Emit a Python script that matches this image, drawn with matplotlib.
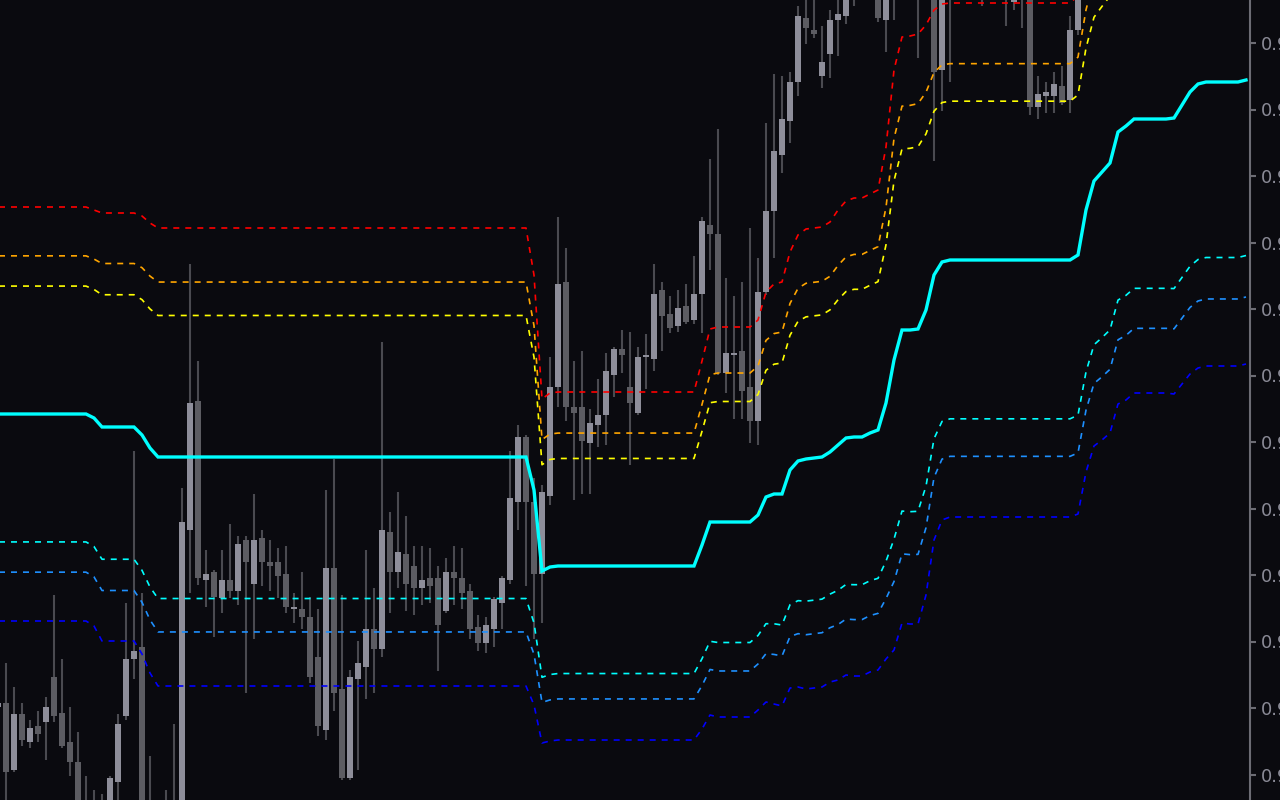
import numpy as np
import matplotlib
matplotlib.use("Agg")
import matplotlib.pyplot as plt

# price = BASE + points * POINT
BASE = 0.96
POINT = 0.00001

# candles (in points above BASE)
open_pts = [
    93, 97, 30, 86, 58, 74, 78, 123, 87, 58,
    38, -28, -50, -20, -35, 18, 84, 141, 153, -30,
    -50, -60, -40, -30, 270, 399, 220, 228, 202, 220,
    209, 260, 216, 262, 238, 238, 226, 191, 191, 183,
    143, 70, 232, 111, 22, 121, 133, 171, 151, 268,
    228, 246, 234, 212, 222, 222, 189, 228, 222, 209,
    173, 157, 171, 197, 220, 298, 363, 298, 226, 304,
    413, 518, 393, 393, 357, 375, 385, 425, 451, 413,
    387, 443, 441, 510, 486, 474, 494, 480, 506, 575,
    566, 427, 445, 449, 413, 379, 508, 589, 645, 679,
    718, 782, 770, 724, 746, 780, 784, 810, 840, 860,
    840, 780, 830, 850, 870, 860, 840, 860, 730, 830,
    850, 870, 880, 870, 860, 875, 865, 798, 840, 830,
    693, 704, 704, 714, 700, 770]
close_pts = [
    97, 28, 86, 60, 72, 66, 93, 84, 54, 38,
    -30, -50, -20, -35, 22, 76, 141, 149, -30, -50,
    -60, -40, -30, 278, 397, 222, 226, 203, 220, 209,
    256, 238, 260, 238, 234, 224, 193, 193, 183, 123,
    74, 232, 107, 22, 123, 137, 171, 151, 270, 228,
    248, 216, 212, 220, 214, 175, 228, 222, 207, 171,
    157, 175, 201, 222, 302, 363, 298, 226, 308, 413,
    516, 393, 387, 359, 377, 385, 429, 451, 445, 397,
    443, 445, 506, 484, 472, 492, 478, 506, 579, 566,
    427, 447, 447, 409, 379, 508, 589, 649, 681, 718,
    784, 772, 766, 738, 780, 786, 820, 840, 860, 840,
    782, 830, 850, 870, 860, 840, 860, 728, 830, 850,
    870, 880, 870, 860, 875, 865, 850, 840, 830, 693,
    706, 708, 716, 697, 770, 830]
high_pts = [
    100, 137, 113, 97, 80, 89, 103, 205, 141, 93,
    68, 24, 10, 6, 24, 86, 197, 349, 207, 44,
    -5, 10, 76, 312, 536, 439, 250, 230, 250, 276,
    264, 264, 306, 270, 260, 252, 254, 207, 228, 203,
    191, 310, 341, 205, 130, 159, 250, 212, 458, 288,
    308, 284, 254, 254, 252, 234, 242, 254, 252, 216,
    185, 183, 203, 224, 349, 375, 365, 322, 315, 443,
    583, 552, 439, 449, 391, 421, 447, 453, 470, 468,
    453, 466, 536, 518, 504, 510, 516, 544, 583, 641,
    671, 522, 504, 518, 572, 542, 677, 726, 724, 728,
    794, 805, 805, 774, 790, 810, 840, 860, 880, 890,
    860, 850, 870, 890, 900, 890, 890, 880, 850, 870,
    890, 900, 910, 900, 900, 905, 890, 860, 870, 850,
    724, 718, 728, 734, 784, 850]
low_pts = [
    88, -5, 28, 54, 52, 58, 40, 78, 52, 24,
    -40, -60, -60, -45, -40, -10, 80, 121, -50, -70,
    -80, -70, -60, -40, 207, 215, 193, 163, 187, 202,
    195, 107, 161, 214, 209, 202, 187, 177, 171, 117,
    64, 60, 89, 20, 20, 30, 101, 107, 143, 187,
    212, 189, 185, 195, 197, 129, 187, 195, 191, 161,
    149, 147, 153, 171, 216, 270, 214, 161, 177, 295,
    393, 379, 300, 306, 306, 353, 355, 403, 427, 335,
    385, 411, 429, 449, 467, 468, 476, 476, 467, 530,
    425, 407, 381, 381, 357, 355, 505, 542, 627, 657,
    704, 756, 762, 712, 722, 744, 776, 794, 820, 815,
    778, 748, 780, 820, 830, 742, 810, 639, 689, 718,
    820, 840, 850, 794, 830, 835, 774, 790, 772, 685,
    681, 687, 687, 695, 687, 765]

# band centre line and distance of the outer bands (points)
mid_pts = [
    386, 386, 386, 386, 386, 386, 386, 386, 386, 386,
    386, 386, 382, 373, 373, 373, 373, 373, 365, 352,
    343, 343, 343, 343, 343, 343, 343, 343, 343, 343,
    343, 343, 343, 343, 343, 343, 343, 343, 343, 343,
    343, 343, 343, 343, 343, 343, 343, 343, 343, 343,
    343, 343, 343, 343, 343, 343, 343, 343, 343, 343,
    343, 343, 343, 343, 343, 343, 343, 310, 229, 233,
    234, 234, 234, 234, 234, 234, 234, 234, 234, 234,
    234, 234, 234, 234, 234, 234, 234, 234, 255, 278,
    278, 278, 278, 278, 278, 285, 303, 306, 306, 330,
    339, 341, 342, 343, 348, 355, 362, 363, 363, 367,
    370, 397, 440, 470, 470, 471, 490, 525, 538, 540,
    540, 540, 540, 540, 540, 540, 540, 540, 540, 540,
    540, 540, 540, 540, 540, 545, 590, 619, 628, 637,
    668, 674, 681, 681, 681, 681, 681, 682, 695, 708,
    716, 718, 718, 718, 718, 718, 720]
dev_pts = [
    207, 207, 207, 207, 207, 207, 207, 207, 207, 207,
    207, 207, 208, 214, 214, 214, 214, 214, 219, 225,
    229, 229, 229, 229, 229, 229, 229, 229, 229, 229,
    229, 229, 229, 229, 229, 229, 229, 229, 229, 229,
    229, 229, 229, 229, 229, 229, 229, 229, 229, 229,
    229, 229, 229, 229, 229, 229, 229, 229, 229, 229,
    229, 229, 229, 229, 229, 229, 229, 215, 172, 174,
    174, 174, 174, 174, 174, 174, 174, 174, 174, 174,
    174, 174, 174, 174, 174, 174, 174, 174, 184, 193,
    195, 195, 195, 195, 195, 195, 205, 210, 212, 218,
    226, 230, 230, 230, 230, 235, 237, 239, 239, 239,
    240, 256, 290, 293, 294, 295, 285, 265, 258, 257,
    257, 257, 257, 257, 257, 257, 257, 257, 257, 257,
    257, 257, 257, 257, 257, 259, 262, 265, 268, 270,
    272, 274, 274, 274, 274, 274, 274, 276, 279, 282,
    284, 284, 284, 284, 284, 284, 284]

band_ratios = [0.618, 0.764, 1.0]
upper_colors = ['#ffff00', '#ffa500', '#ff0000']
lower_colors = ['#00ffff', '#1e90ff', '#0000ff']

BG = '#0a0a0f'
UP = '#8e8e9a'
DOWN = '#5c5c62'
WICK = '#4a4a50'
AXIS = '#6c6c74'

o = BASE + np.array(open_pts) * POINT
c = BASE + np.array(close_pts) * POINT
h = BASE + np.array(high_pts) * POINT
l = BASE + np.array(low_pts) * POINT
mid = BASE + np.array(mid_pts) * POINT
dev = np.array(dev_pts) * POINT

xc = np.arange(len(o))
xb = np.arange(len(mid))

fig = plt.figure(figsize=(12.8, 8), dpi=100, facecolor=BG)
ax = fig.add_axes([0, 0, 1250 / 1280, 1])
ax.set_facecolor(BG)

# candles
up = c >= o
ax.vlines(xc, l, h, color=WICK, lw=1.5, zorder=1)
ax.bar(xc, np.abs(c - o), bottom=np.minimum(o, c), width=0.75,
       color=np.where(up, UP, DOWN), linewidth=0, zorder=2)

# bands
for r, uc, lc in zip(band_ratios, upper_colors, lower_colors):
    ax.plot(xb, mid + dev * r, color=uc, lw=1.2, ls=(0, (3.6, 3.6)), zorder=3)
    ax.plot(xb, mid - dev * r, color=lc, lw=1.2, ls=(0, (3.6, 3.6)), zorder=3)
ax.plot(xb, mid, color='#00ffff', lw=2.4, zorder=4, solid_joinstyle='miter')

ax.set_xlim(0.25, 156.5)
ax.set_ylim(BASE, BASE + 800 * POINT)

ticks = BASE + np.arange(25.5, 800, 66.5) * POINT
ax.set_yticks(ticks)
ax.set_yticklabels([f'{t:.5f}' for t in ticks])
ax.yaxis.tick_right()
ax.tick_params(axis='y', colors=AXIS, labelcolor='#8a8a96', length=4,
               width=1.5, labelsize=13, pad=4)
ax.set_xticks([])
for s in ['top', 'bottom', 'left']:
    ax.spines[s].set_visible(False)
ax.spines['right'].set_color(AXIS)
ax.spines['right'].set_linewidth(1.5)

fig.savefig('out.png', dpi=100, facecolor=BG)
